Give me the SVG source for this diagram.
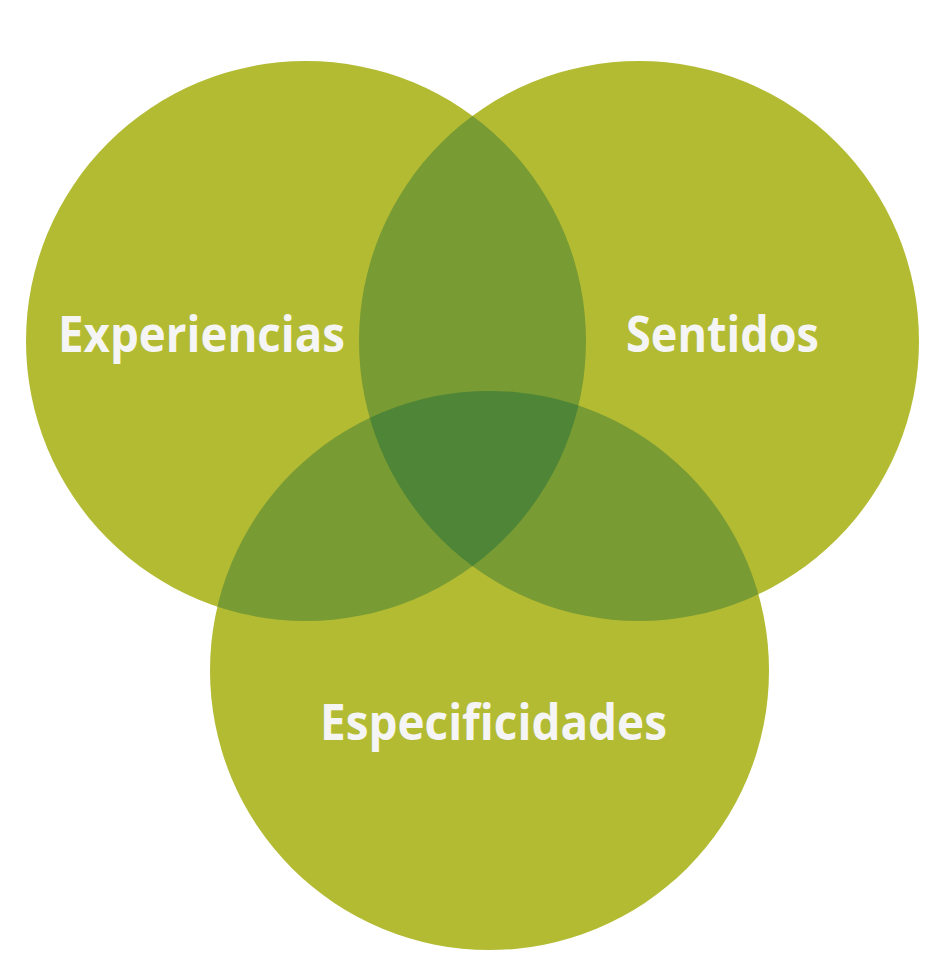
<svg xmlns="http://www.w3.org/2000/svg" width="952" height="976" viewBox="0 0 952 976">
<style>
.base{fill:#B3BB33}
.pair{fill:#789B34}
.triple{fill:#4E8537}
.lbl{font-family:"Open Sans","Noto Sans","DejaVu Sans",sans-serif;font-weight:bold;font-size:50px;fill:#F5F5F5}
</style>
<defs>
<clipPath id="cL"><circle cx="306" cy="341" r="280"/></clipPath>
<clipPath id="cR"><circle cx="639" cy="341" r="280"/></clipPath>
<clipPath id="cB"><circle cx="489.5" cy="670.5" r="279.5"/></clipPath>
</defs>
<rect width="952" height="976" fill="#FFFFFF"/>
<g id="circle-experiencias"><circle class="base" cx="306" cy="341" r="280"/></g>
<g id="circle-sentidos"><circle class="base" cx="639" cy="341" r="280"/></g>
<g id="circle-especificidades"><circle class="base" cx="489.5" cy="670.5" r="279.5"/></g>
<g id="overlaps">
<g clip-path="url(#cL)"><circle class="pair" cx="639" cy="341" r="280"/></g>
<g clip-path="url(#cL)"><circle class="pair" cx="489.5" cy="670.5" r="279.5"/></g>
<g clip-path="url(#cR)"><circle class="pair" cx="489.5" cy="670.5" r="279.5"/></g>
<g clip-path="url(#cL)"><g clip-path="url(#cR)"><circle class="triple" cx="489.5" cy="670.5" r="279.5"/></g></g>
</g>
<g id="labels">
<text class="lbl" x="58" y="352" textLength="287" lengthAdjust="spacingAndGlyphs">Experiencias</text>
<text class="lbl" x="626" y="352" textLength="193" lengthAdjust="spacingAndGlyphs">Sentidos</text>
<text class="lbl" x="320" y="740" textLength="347" lengthAdjust="spacingAndGlyphs">Especificidades</text>
</g>
<g id="connectors"/>
</svg>
